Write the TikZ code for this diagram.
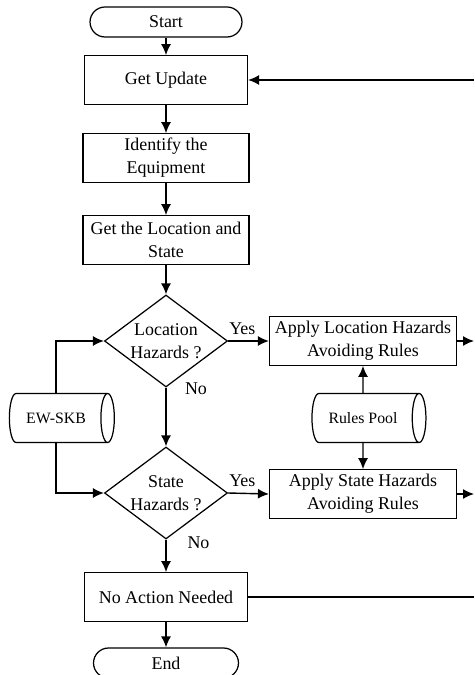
\documentclass[tikz,border=0pt]{standalone}
\usepackage{fontspec}
\setmainfont{Liberation Serif}
\usepackage{tikz}
\usetikzlibrary{arrows.meta,shapes.geometric}

\begin{document}
\begin{tikzpicture}[
  x=0.02cm,y=-0.02cm,
  font=\fontsize{10.2}{13}\selectfont,
  >=Latex,
  terminal/.style={draw,line width=0.7pt,rounded corners=0.3cm,minimum height=0.6cm,align=center},
  proceso/.style={draw,line width=0.7pt,minimum height=0.97cm,align=center,inner sep=2pt},
  decision/.style={draw,line width=0.7pt,diamond,aspect=1.34,inner sep=0pt,minimum width=2.46cm,minimum height=1.84cm,align=center},
  base/.style={draw,line width=0.7pt,cylinder,shape aspect=0.6,minimum width=0.98cm,align=center,font=\fontsize{9}{11}\selectfont},
  arr/.style={-{Latex[length=2.2mm,width=2mm]},line width=0.8pt},
  lin/.style={line width=0.8pt}
]
  \useasboundingbox (0,0) rectangle (474,675);

  \node[terminal,minimum width=3.04cm] (start) at (166,22) {Start};
  \node[proceso,minimum width=3.26cm] (getupd) at (166,80) {Get Update};
  \node[proceso,minimum width=3.32cm] (ident) at (166,158) {Identify the\\Equipment};
  \node[proceso,minimum width=3.32cm] (getloc) at (166,240) {Get the Location and\\State};

  \node[decision] (lochaz) at (166,341) {Location\\Hazards ?};
  \node[decision] (statehaz) at (166,493) {State\\Hazards ?};

  \node[proceso,minimum width=3.74cm] (applyloc) at (363,341)
    {Apply Location Hazards\\Avoiding Rules};
  \node[proceso,minimum width=3.74cm] (applystate) at (363,494)
    {Apply State Hazards\\Avoiding Rules};

  \node[base,minimum height=2.1cm] (ewskb) at (56,418) {EW-SKB};
  \node[base,minimum height=2.28cm] (rules) at (363,418) {Rules Pool};

  \node[proceso,minimum width=3.26cm] (noaction) at (166,597) {No Action Needed};
  \node[terminal,minimum width=2.9cm] (stop) at (166,663) {End};

  \coordinate (backin) at (474,80);
  \coordinate (outloc) at (474,341);
  \coordinate (outstate) at (474,494);
  \coordinate (outnone) at (474,597);

  \draw[arr] (start)--(getupd);
  \draw[arr] (getupd)--(ident);
  \draw[arr] (ident)--(getloc);
  \draw[arr] (getloc)--(lochaz);
  \draw[arr] (lochaz.east)--node[above,pos=0.35]{Yes}(applyloc.west);
  \draw[arr] (lochaz.south)--node[pos=0.02,anchor=west,xshift=0.25cm]{No}(statehaz.north);
  \draw[arr] (statehaz.east)--node[above,pos=0.35]{Yes}(applystate.west);
  \draw[arr] (statehaz.south)--node[pos=0.1,anchor=west,xshift=0.3cm]{No}(noaction.north);
  \draw[arr] (noaction)--(stop);

  \draw[arr] (ewskb.north)|-(lochaz.west);
  \draw[arr] (ewskb.south)|-(statehaz.west);
  \draw[arr] (rules.north)--(applyloc.south);
  \draw[arr] (rules.south)--(applystate.north);

  \draw[arr] (applyloc.east)--(outloc);
  \draw[arr] (applystate.east)--(outstate);
  \draw[lin] (noaction.east)--(outnone);
  \draw[arr] (backin)--(getupd.east);
\end{tikzpicture}
\end{document}
